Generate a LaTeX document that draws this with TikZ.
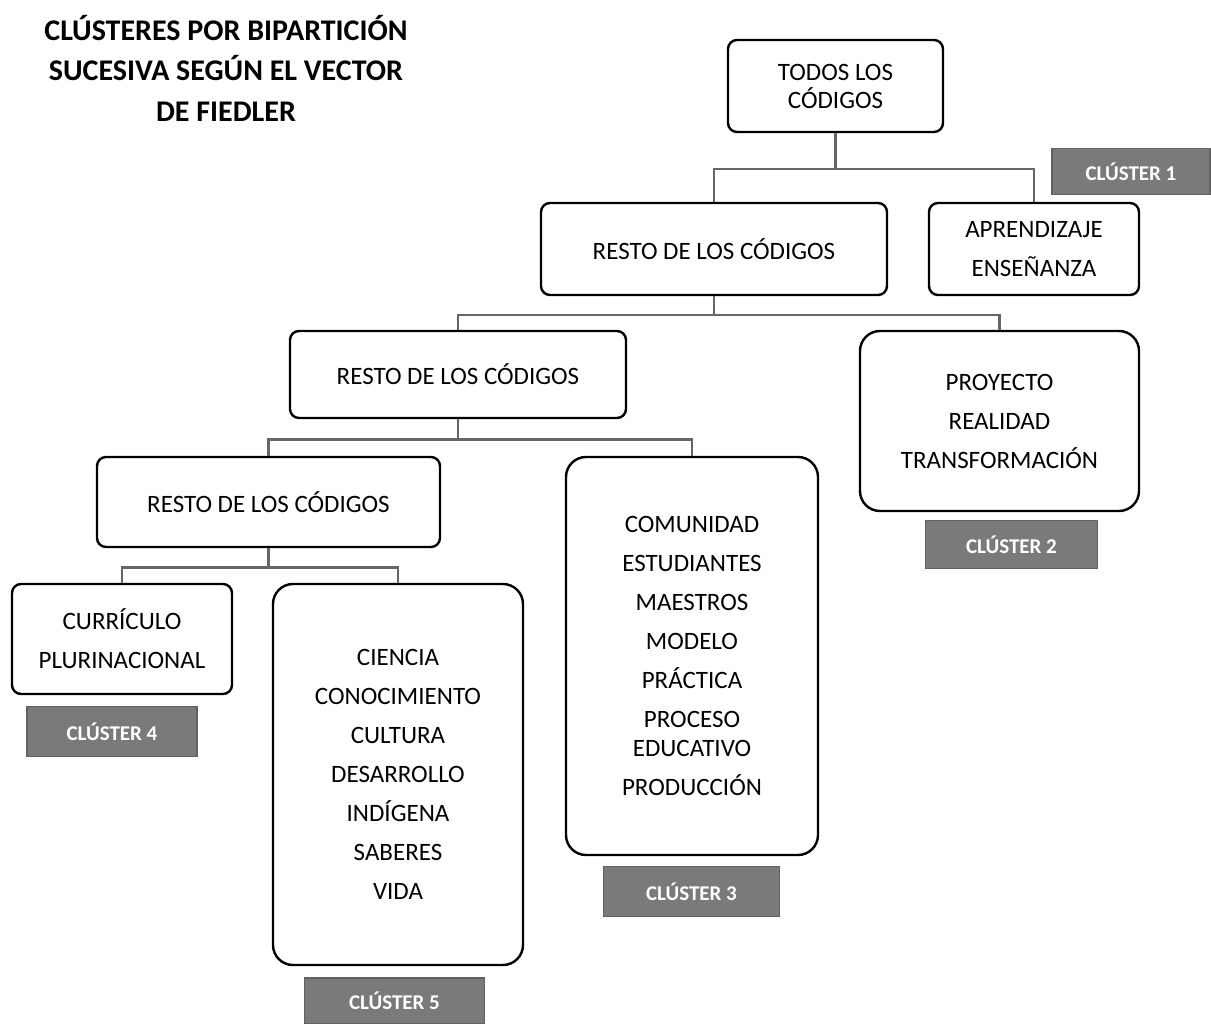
\documentclass[tikz,border=0pt]{standalone}
\usepackage{fontspec}
\setmainfont{Carlito}
\begin{document}
\begin{tikzpicture}[x=1pt,y=-1pt,
  box/.style={draw=black,line width=2.4pt,rounded corners=9pt,align=center,
    font=\fontsize{25}{39}\selectfont,inner sep=0pt},
  bigbox/.style={box,rounded corners=20pt},
  conn/.style={draw=black!60,line width=2.6pt},
  tag/.style={fill=black!52,draw=black!62,line width=1.5pt,text=white,
    font=\bfseries\fontsize{21}{22}\selectfont,inner sep=0pt,align=center},
  title/.style={font=\bfseries\fontsize{30}{40.5}\selectfont,align=center}]
\useasboundingbox[fill=white] (0,0) rectangle (1211,1024);

\node[title] (ttl) at (226,68) {CLÚSTERES POR BIPARTICIÓN\\SUCESIVA SEGÚN EL VECTOR\\DE FIEDLER};

\node[box,minimum width=215,minimum height=92,font=\fontsize{25}{28}\selectfont] (todos) at (835.5,86) {TODOS LOS\\CÓDIGOS};
\node[tag,minimum width=158,minimum height=46] (c1) at (1131,171.5) {CLÚSTER 1};

\node[box,minimum width=346,minimum height=92] (r1) at (714,249) {RESTO DE LOS CÓDIGOS};
\node[box,minimum width=210,minimum height=92] (apr) at (1034,249) {APRENDIZAJE\\ENSEÑANZA};

\node[box,minimum width=336,minimum height=87] (r2) at (458,374.5) {RESTO DE LOS CÓDIGOS};
\node[bigbox,minimum width=279,minimum height=180] (pro) at (999.5,421) {PROYECTO\\REALIDAD\\TRANSFORMACIÓN};
\node[tag,minimum width=172,minimum height=48] (c2) at (1011.5,544.5) {CLÚSTER 2};

\node[box,minimum width=343,minimum height=90] (r3) at (268.5,502) {RESTO DE LOS CÓDIGOS};
\node[bigbox,minimum width=252,minimum height=398] (com) at (692,656) {COMUNIDAD\\ESTUDIANTES\\MAESTROS\\MODELO\\PRÁCTICA\\PROCESO\\[-10pt]EDUCATIVO\\PRODUCCIÓN};
\node[tag,minimum width=176,minimum height=50] (c3) at (691.5,891.5) {CLÚSTER 3};

\node[box,minimum width=220,minimum height=110] (cur) at (122,639) {CURRÍCULO\\PLURINACIONAL};
\node[tag,minimum width=170,minimum height=50] (c4) at (112,731.5) {CLÚSTER 4};

\node[bigbox,minimum width=250,minimum height=381] (cie) at (398,774.5) {CIENCIA\\CONOCIMIENTO\\CULTURA\\DESARROLLO\\INDÍGENA\\SABERES\\VIDA};
\node[tag,minimum width=180,minimum height=46] (c5) at (394.5,1001) {CLÚSTER 5};

\draw[conn] (todos.south) -- ++(0,36) coordinate (j1);
\draw[conn] (r1.north) |- (j1) -| (apr.north);
\draw[conn] (r1.south) -- ++(0,19) coordinate (j2);
\draw[conn] (r2.north) |- (j2) -| (pro.north);
\draw[conn] (r2.south) -- ++(0,20) coordinate (j3);
\draw[conn] (r3.north) |- (j3) -| (com.north);
\draw[conn] (r3.south) -- ++(0,19) coordinate (j4);
\draw[conn] (cur.north) |- (j4) -| (cie.north);
\end{tikzpicture}
\end{document}
